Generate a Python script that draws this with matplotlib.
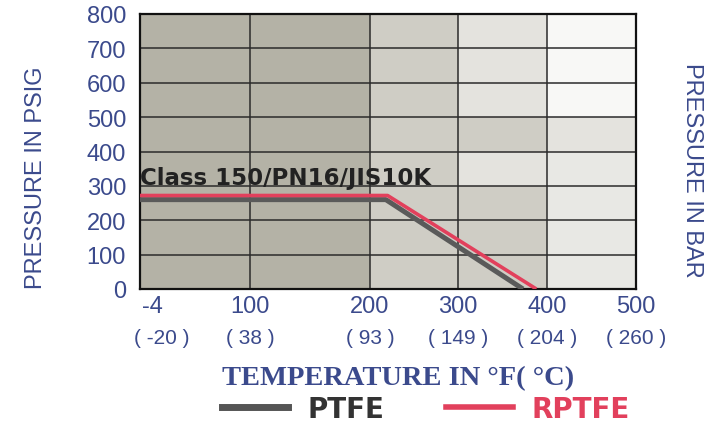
import matplotlib

matplotlib.use("Agg")
import matplotlib.pyplot as plt
import numpy as np
from matplotlib.colors import ListedColormap
from matplotlib.lines import Line2D
from matplotlib.transforms import ScaledTranslation

# data
temp_f_ticks = [-4, 100, 200, 300, 400, 500]
temp_c_labels = ["-20", "38", "93", "149", "204", "260"]
psig_ticks = [0, 100, 200, 300, 400, 500, 600, 700, 800]

ptfe_t = [-4, 218, 373]
ptfe_p = [260, 260, 0]
rptfe_t = [-4, 220, 388]
rptfe_p = [272, 272, 0]

class_label = "Class 150/PN16/JIS10K"

# cell shading, rows bottom (0-100) to top (700-800), columns by temperature band
shade = np.array([
    [0, 0, 1, 1, 4],
    [0, 0, 1, 1, 4],
    [0, 0, 1, 1, 4],
    [0, 0, 1, 2, 4],
    [0, 0, 1, 1, 2],
    [0, 0, 1, 2, 3],
    [0, 0, 1, 2, 3],
    [0, 0, 1, 2, 3],
])
shade_cmap = ListedColormap(["#b4b2a6", "#cfcdc5", "#e4e3de", "#f8f8f6", "#e8e8e4"])

BLUE = "#3b4a8c"

# chart's x axis is not linear: gridline spacing
grid_pos = np.array([0, 110, 230, 318, 407, 496], dtype=float)
grid_f = np.array(temp_f_ticks, dtype=float)


def fwd(x):
    return np.interp(x, grid_f, grid_pos)


def inv(x):
    return np.interp(x, grid_pos, grid_f)


fig = plt.figure(figsize=(7.17, 4.27), dpi=100)
ax = fig.add_axes([140 / 717, 1 - 290 / 427, 496 / 717, 275 / 427])
ax.set_xscale("function", functions=(fwd, inv))

ax.pcolormesh(temp_f_ticks, psig_ticks, shade, cmap=shade_cmap, vmin=-0.5, vmax=4.5,
              shading="flat", zorder=0)

for t in temp_f_ticks[1:-1]:
    ax.axvline(t, color="#2b2b2b", lw=1.1, zorder=1)
for p in psig_ticks[1:-1]:
    ax.axhline(p, color="#2b2b2b", lw=1.1, zorder=1)

ax.plot(ptfe_t, ptfe_p, color="#5a5a5a", lw=3.6, solid_capstyle="butt", zorder=3)
ax.plot(rptfe_t, rptfe_p, color="#e2405c", lw=2.6, solid_capstyle="butt", zorder=4)

ax.text(-4, 292, class_label, fontsize=16.5, fontweight="bold", color="#222222",
        family="DejaVu Sans", va="bottom", ha="left", zorder=5)

ax.set_xlim(-4, 500)
ax.set_ylim(0, 800)
for s in ax.spines.values():
    s.set_linewidth(1.6)
    s.set_color("#111111")

ax.set_xticks(temp_f_ticks)
ax.set_xticklabels([str(t) for t in temp_f_ticks])
ax.set_yticks(psig_ticks)
ax.tick_params(length=0, labelsize=17, labelcolor=BLUE)
ax.tick_params(axis="x", pad=4)
ax.tick_params(axis="y", pad=10)
for lab in ax.get_xticklabels() + ax.get_yticklabels():
    lab.set_family("Liberation Sans")

shift = ScaledTranslation(9 / 72, 0, fig.dpi_scale_trans)
first = ax.get_xticklabels()[0]
first.set_transform(first.get_transform() + shift)

xform = ax.get_xaxis_transform()
for i, (t, c) in enumerate(zip(temp_f_ticks, temp_c_labels)):
    tr = xform + ScaledTranslation(16 / 72 if i == 0 else 0, 0, fig.dpi_scale_trans)
    ax.text(t, -0.175, "( " + c + " )", transform=tr, ha="center", va="center",
            fontsize=15, color=BLUE, family="Liberation Sans")

fig.text(398 / 717, 1 - 379 / 427, "TEMPERATURE IN \u00b0F( \u00b0C)", ha="center", va="center",
         fontsize=20.5, fontweight="bold", color=BLUE, family="Liberation Serif")

fig.text(36 / 717, 1 - 178 / 427, "PRESSURE IN PSIG", rotation=90, ha="center", va="center",
         fontsize=17, color=BLUE, family="Liberation Sans")
fig.text(692 / 717, 1 - 170 / 427, "PRESSURE IN BAR", rotation=-90, ha="center", va="center",
         fontsize=17, color=BLUE, family="Liberation Sans")

handles = [Line2D([], [], color="#555555", lw=5), Line2D([], [], color="#e2405c", lw=4)]
leg = fig.legend(handles, ["PTFE", "RPTFE"], ncol=2, loc="center",
                 bbox_to_anchor=(426 / 717, 1 - 410 / 427), frameon=False,
                 handlelength=2.4, handletextpad=0.7, columnspacing=2.2,
                 borderpad=0, borderaxespad=0,
                 prop={"family": "DejaVu Sans", "weight": "bold", "size": 20})
leg.get_texts()[0].set_color("#333333")
leg.get_texts()[1].set_color("#e2405c")

fig.savefig("out.png", dpi=100)
